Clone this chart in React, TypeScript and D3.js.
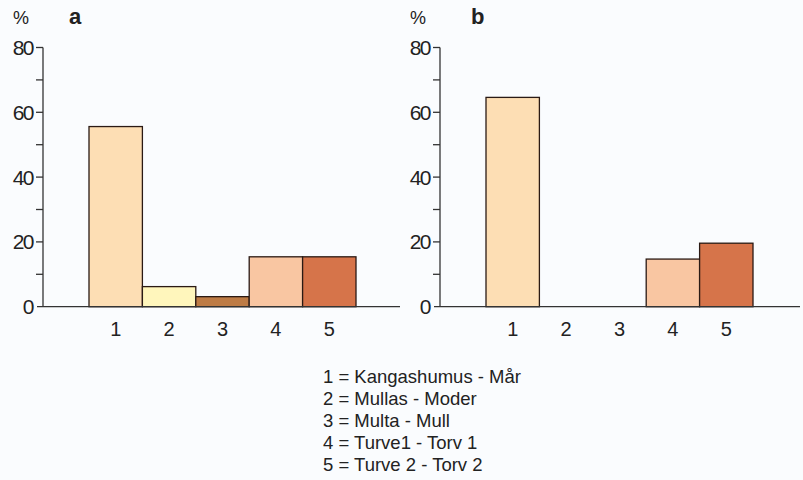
import * as d3 from "d3";
import { useEffect, useRef } from "react";

const categories = ["1", "2", "3", "4", "5"];
const valuesA = [55.6, 6.2, 3.1, 15.4, 15.4];
const valuesB = [64.6, 0, 0, 14.7, 19.6];
const yTicks = [0, 20, 40, 60, 80];
const panelLabels = ["a", "b"];
const legendLines = [
  "1 = Kangashumus - Mår",
  "2 = Mullas - Moder",
  "3 = Multa - Mull",
  "4 = Turve1 - Torv 1",
  "5 = Turve 2 - Torv 2",
];
const colors = ["#FDDEB4", "#FFF6BC", "#BD7B45", "#F9C6A2", "#D6744A"];

const FONT = "Liberation Sans, Arial, sans-serif";

export default function App() {
  const ref = useRef<SVGSVGElement | null>(null);

  useEffect(() => {
    const svg = d3.select(ref.current);
    svg.selectAll("*").remove();

    const width = 803;
    const height = 480;
    svg.attr("width", width).attr("height", height);

    svg.append("rect").attr("width", width).attr("height", height).attr("fill", "#FAFCFE");

    const y = d3.scaleLinear().domain([0, 80]).range([306.7, 47.5]);

    const panels = [
      { x0: 43, values: valuesA, label: panelLabels[0], labelX: 26, axisEnd: 357 },
      { x0: 440, values: valuesB, label: panelLabels[1], labelX: 31, axisEnd: 360 },
    ];

    panels.forEach((p) => {
      const g = svg.append("g").attr("transform", `translate(${p.x0},0)`);
      const x = d3.scaleBand<string>().domain(categories).range([46, 313]).padding(0);

      // bars
      g.selectAll("rect.bar")
        .data(p.values.map((v, i) => ({ v, c: categories[i], i })).filter((d) => d.v > 0))
        .enter()
        .append("rect")
        .attr("class", "bar")
        .attr("x", (d) => x(d.c)!)
        .attr("width", x.bandwidth())
        .attr("y", (d) => y(d.v))
        .attr("height", (d) => y(0) - y(d.v))
        .attr("fill", (d) => colors[d.i])
        .attr("stroke", "#2a1a14")
        .attr("stroke-width", 1.3);

      // y axis
      g.append("line")
        .attr("x1", 0).attr("x2", 0)
        .attr("y1", y(80)).attr("y2", y(0))
        .attr("stroke", "#333").attr("stroke-width", 1.3);
      g.selectAll("line.ytick")
        .data(d3.range(10, 81, 10))
        .enter()
        .append("line")
        .attr("x1", -7).attr("x2", 0)
        .attr("y1", (d) => y(d)).attr("y2", (d) => y(d))
        .attr("stroke", "#333").attr("stroke-width", 1.3);
      g.selectAll("text.ylab")
        .data(yTicks)
        .enter()
        .append("text")
        .attr("x", -10)
        .attr("y", (d) => y(d) + 7.5)
        .attr("text-anchor", "end")
        .attr("font-family", FONT)
        .attr("font-size", 21)
        .attr("letter-spacing", -1.5)
        .attr("fill", "#222")
        .text((d) => d);

      // x axis
      g.append("line")
        .attr("x1", -6).attr("x2", p.axisEnd)
        .attr("y1", y(0)).attr("y2", y(0))
        .attr("stroke", "#333").attr("stroke-width", 1.3);
      g.selectAll("text.xlab")
        .data(categories)
        .enter()
        .append("text")
        .attr("x", (d) => x(d)! + x.bandwidth() / 2)
        .attr("y", 336)
        .attr("text-anchor", "middle")
        .attr("font-family", FONT)
        .attr("font-size", 20)
        .attr("fill", "#222")
        .text((d) => d);

      g.append("text")
        .attr("x", -30).attr("y", 24)
        .attr("font-family", FONT).attr("font-size", 18)
        .attr("fill", "#222")
        .text("%");
      g.append("text")
        .attr("x", p.labelX).attr("y", 24)
        .attr("font-family", FONT).attr("font-size", 22)
        .attr("font-weight", "bold")
        .attr("fill", "#222")
        .text(p.label);
    });

    svg.selectAll("text.legend")
      .data(legendLines)
      .enter()
      .append("text")
      .attr("x", 323)
      .attr("y", (_, i) => 383 + i * 22)
      .attr("font-family", FONT)
      .attr("font-size", 18.5)
      .attr("fill", "#222")
      .text((d) => d);
  }, []);

  return (
    <div style={{ position: "absolute", left: 0, top: 0 }}>
      <svg ref={ref}></svg>
    </div>
  );
}
